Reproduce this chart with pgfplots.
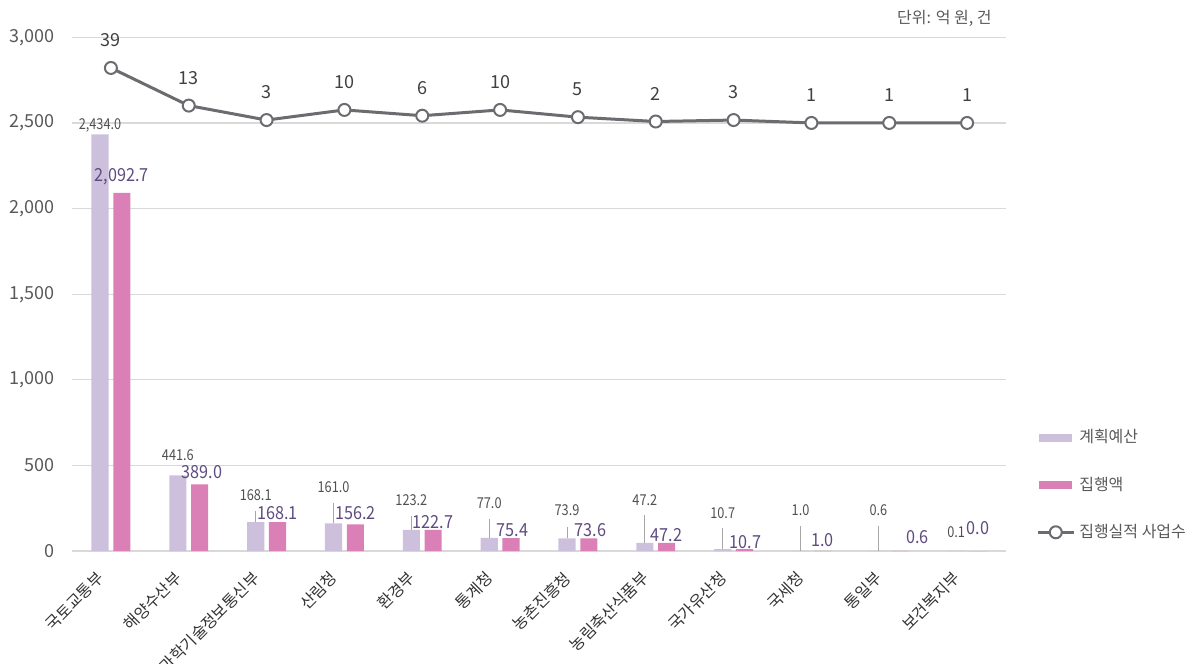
\documentclass[border=0pt]{standalone}
\usepackage{fontspec}
\setmainfont{Noto Sans CJK KR}
\usepackage{pgfplots}
\pgfplotsset{compat=1.18}
\usepackage{pgfplotstable}

\definecolor{cPlan}{HTML}{CCC0DD}
\definecolor{cExec}{HTML}{DB80B6}
\definecolor{cLine}{HTML}{6C6B70}
\definecolor{cGrid}{HTML}{D9D9D9}
\definecolor{cTick}{HTML}{595959}
\definecolor{cPlanTxt}{HTML}{505050}
\definecolor{cExecTxt}{HTML}{5E4B80}
\definecolor{cLead}{HTML}{A6A6A6}

\pgfplotsset{
    countlegend/.style={legend image code/.code={
        \draw[mark repeat=2, mark phase=2, ##1] plot coordinates {(0pt,0pt) (9pt,0pt) (18pt,0pt)};}},
}

% plan/exec in 억 원, cnt = 집행실적 사업수
% ply/ely = label heights, perr = leader length, exo = exec label offset
\pgfplotstableread{
idx plan   exec   cnt ply  perr ely  exo
0   2434.0 2092.7 39  2488 0    2185 0.14
1   441.6  389.0  13  561  0    461  0.17
2   168.1  168.1  3   327  66   222  0.14
3   161.0  156.2  10  374  119  222  0.14
4   123.2  122.7  6   298  81   169  0.14
5   77.0   75.4   10  280  110  123  0.16
6   73.9   73.6   5   239  66   123  0.16
7   47.2   47.2   2   298  163  93   0.14
8   10.7   10.7   3   222  123  53   0.15
9   1.0    1.0    1   239  145  64   0.14
10  0.6    0.6    1   239  145  82   0.36
11  0.1    0.0    1   111  0    134  0.14
}\budget

\begin{document}
\begin{tikzpicture}
\useasboundingbox (-36pt,-56pt) rectangle (562.5pt,275.5pt);

\begin{axis}[
    at={(0,0)}, anchor=south west,
    scale only axis,
    width=467pt, height=256.75pt,
    xmin=-0.5, xmax=11.5,
    ymin=0, ymax=3000,
    clip=false,
    axis line style={draw=none},
    tick style={draw=none},
    ymajorgrids,
    grid style={cGrid, line width=0.6pt},
    ytick={0,500,...,3000},
    yticklabel style={font=\fontsize{9}{9}\selectfont, text=cTick, xshift=-5pt},
    /pgf/number format/.cd, 1000 sep={,}, assume math mode=true, /pgfplots/.cd,
    xtick={0,...,11},
    xticklabels={국토교통부, 해양수산부, 과학기술정보통신부, 산림청, 환경부, 통계청,
        농촌진흥청, 농림축산식품부, 국가유산청, 국세청, 통일부, 보건복지부},
    xticklabel style={xshift=-5pt, yshift=-12pt, rotate=45, anchor=east,
        inner sep=0pt, font=\fontsize{8}{8}\selectfont, text=black!80},
]

\addplot[ybar, bar width=0.22, bar shift=0pt, fill=cPlan, draw=none]
    table[x expr=\thisrow{idx}-0.14, y=plan] {\budget};
\addplot[ybar, bar width=0.22, bar shift=0pt, fill=cExec, draw=none]
    table[x expr=\thisrow{idx}+0.14, y=exec] {\budget};

% leader lines
\addplot[draw=none, mark=none,
    error bars/.cd, y dir=plus, y explicit, error mark=none,
    error bar style={draw=cLead, line width=0.5pt}]
    table[x expr=\thisrow{idx}-0.14, y=plan, y error=perr] {\budget};

% plan labels
\addplot[draw=none, mark=none, point meta=\thisrow{plan},
    nodes near coords={\scalebox{0.85}[1]{\pgfmathprintnumber[fixed,fixed zerofill,precision=1,1000 sep={,}]{\pgfplotspointmeta}}},
    nodes near coords style={anchor=center, inner sep=0pt, text=cPlanTxt,
        font=\fontsize{7.5}{7.5}\selectfont}]
    table[x expr=\thisrow{idx}-0.14, y=ply] {\budget};

% exec labels
\addplot[draw=none, mark=none, point meta=\thisrow{exec},
    nodes near coords={\scalebox{0.9}[1]{\pgfmathprintnumber[fixed,fixed zerofill,precision=1,1000 sep={,}]{\pgfplotspointmeta}}},
    nodes near coords style={anchor=center, inner sep=0pt, text=cExecTxt,
        font=\fontsize{9}{9}\selectfont}]
    table[x expr=\thisrow{idx}+\thisrow{exo}, y=ely] {\budget};

\node[font=\fontsize{8}{8}\selectfont, text=cTick]
    at (rel axis cs:0.934,1) [yshift=9.75pt] {단위: 억 원, 건};
\end{axis}

\begin{axis}[
    at={(0,0)}, anchor=south west,
    scale only axis,
    width=467pt, height=256.75pt,
    xmin=-0.5, xmax=11.5,
    ymin=-294.8, ymax=60.06,
    clip=false,
    hide axis,
    /pgf/number format/assume math mode=true,
    legend style={at={(1.032,0.1285)}, anchor=west, draw=none, fill=none,
        inner sep=0pt, row sep=11.5pt, font=\fontsize{8}{8}\selectfont, text=cTick,
        /tikz/every even column/.append style={column sep=2pt}},
    legend cell align=left,
]
\addlegendimage{legend image code/.code={
    \fill[cPlan] (1pt,-1.6pt) rectangle (17pt,1.6pt);
    \path (0pt,0pt) (18pt,0pt);}}
\addlegendentry{계획예산}
\addlegendimage{legend image code/.code={
    \fill[cExec] (1pt,-1.6pt) rectangle (17pt,1.6pt);
    \path (0pt,0pt) (18pt,0pt);}}
\addlegendentry{집행액}

\addplot[cLine, line width=1.5pt, mark=*, mark size=3pt,
    mark options={fill=white, draw=cLine, line width=1pt},
    point meta=y,
    nodes near coords={\pgfmathprintnumber[fixed,precision=0]{\pgfplotspointmeta}},
    nodes near coords style={anchor=center, yshift=13.75pt, text=black!75,
        font=\fontsize{9}{9}\selectfont},
    countlegend]
    table[x=idx, y=cnt] {\budget};
\addlegendentry{집행실적 사업수}
\end{axis}
\end{tikzpicture}
\end{document}
